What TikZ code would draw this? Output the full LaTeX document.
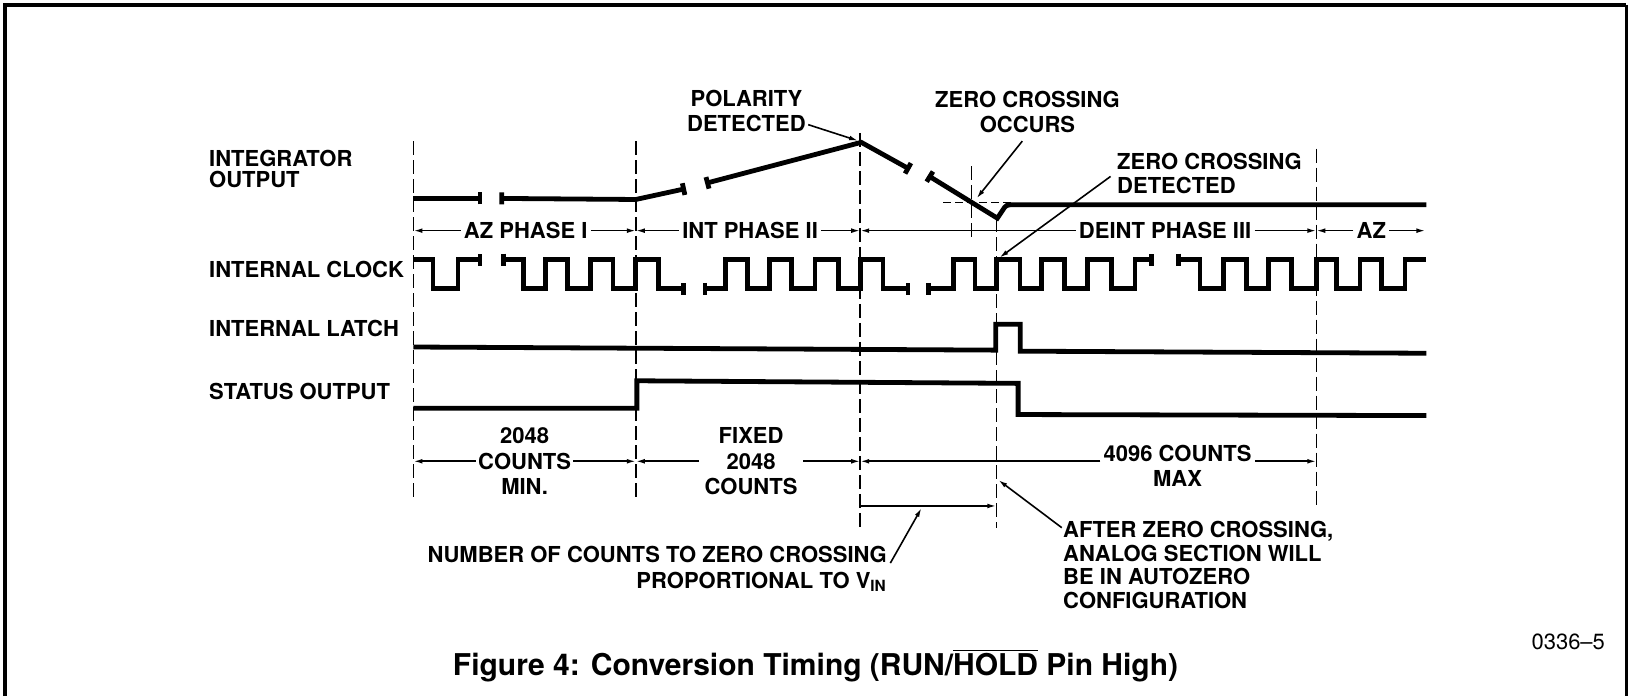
\documentclass[tikz,border=0pt]{standalone}
\usepackage{fontspec}
\setmainfont{TeX Gyre Heros}
\usetikzlibrary{arrows.meta,calc}
\tikzset{
  wave/.style={line width=2.4pt, line join=miter},
  guide/.style={line width=0.75pt, dash pattern=on 7pt off 2.5pt},
  dim/.style={line width=0.8pt, -{Latex[length=4.5pt,width=2.4pt]}},
  lbl/.style={font=\bfseries\fontsize{11}{12.2}\selectfont, inner sep=0pt},
}
\newcommand{\wtick}[2]{\draw[wave] ($(#1)!3pt!90:(#2)$) -- ($(#1)!3pt!-90:(#2)$);}
\begin{document}
\begin{tikzpicture}[x=0.5195pt, y=-0.5195pt]
\useasboundingbox (0,0) rectangle (1568,670);
% frame
\draw[line width=2pt] (5,670) -- (5,4.8) -- (1565.5,4.8);
\draw[line width=1.3pt] (1565.5,4.8) -- (1565.5,670);

% left labels
\node[lbl, anchor=west, align=left, font=\bfseries\fontsize{11}{10.4}\selectfont] (integ) at (201,162.4) {INTEGRATOR\\OUTPUT};
\node[lbl, anchor=west] (clk) at (201,259) {INTERNAL CLOCK};
\node[lbl, anchor=west] (latch) at (201,316) {INTERNAL LATCH};
\node[lbl, anchor=west] (status) at (201,377) {STATUS OUTPUT};

% vertical guides
\draw[guide] (398,136) -- (398,481);
\draw[guide] (612,136) -- (612,481);
\draw[guide] (828,128) -- (828,507);
\draw[guide] (935,160) -- (935,231);
\draw[guide] (959,210) -- (959,508);
\draw[guide] (1267,143) -- (1267,488);
\draw[guide, dash pattern=on 4pt off 2pt] (908,195) -- (975,195);

% integrator output
\coordinate (i1a) at (398,191); \coordinate (i1b) at (462,191);
\coordinate (i2a) at (483,191); \coordinate (i2k) at (612,192); \coordinate (i2b) at (658,182);
\coordinate (i3a) at (681,176); \coordinate (peak) at (829,137); \coordinate (i3b) at (874,162);
\coordinate (i4a) at (895,170); \coordinate (dip) at (960,210); \coordinate (i4e) at (1373,197);
\draw[wave] (i1a) -- (i1b);
\wtick{i1b}{i1a}
\draw[wave] (i2a) -- (i2k) -- (i2b);
\wtick{i2a}{i2k} \wtick{i2b}{i2k}
\draw[wave] (i3a) -- (peak) -- (i3b);
\wtick{i3a}{peak} \wtick{i3b}{peak}
\draw[wave] (i4a) -- (dip) -- (965,202.5) .. controls (968.5,197) .. (978,197) -- (i4e);
\wtick{i4a}{dip}

% internal clock
\coordinate (cA1) at (398,250); \coordinate (cA2) at (462,250);
\coordinate (cB1) at (484.4,250); \coordinate (cB2) at (657.7,278);
\coordinate (cC1) at (678.6,278); \coordinate (cC2) at (874,278);
\coordinate (cD1) at (893.5,278); \coordinate (cD2) at (1108.5,250);
\coordinate (cE1) at (1134,250); \coordinate (cE2) at (1373,250);
\draw[wave] (cA1) -| (416.7,278) -| (440.8,250) -- (cA2);
\draw[wave] (cB1) -| (504,278) -| (525,250) -| (546,278) -| (568,250) -| (590,278) -| (612,250) -| (634,278) -- (cB2);
\draw[wave] (cC1) -| (698,250) -| (719.5,278) -| (741,250) -| (762,278) -| (784.4,250) -| (806.9,278) -| (828,250) -| (850,278) -- (cC2);
\draw[wave] (cD1) -| (917.5,250) -| (938.4,278) -| (959,250) -| (981.7,278) -| (1002.6,250) -| (1025,278) -| (1046.5,250) -| (1070,278) -| (1092.4,250) -- (cD2);
\draw[wave] (cE1) -| (1155,278) -| (1177.4,250) -| (1199.9,278) -| (1220.7,250) -| (1243.2,278) -| (1267,250) -| (1286.5,278) -| (1309,250) -| (1329.9,278) -| (1352.3,250) -- (cE2);
\wtick{cA2}{440,250} \wtick{cB1}{504,250}
\wtick{cB2}{634,278} \wtick{cC1}{698,278}
\wtick{cC2}{850,278} \wtick{cD1}{917,278}
\wtick{cD2}{1092,250} \wtick{cE1}{1155,250}

% internal latch
\draw[wave] (398,334) -- (958.5,337) -- (958.5,312) -- (982,312) -- (982,338) -- (1373,340);
% status output
\draw[wave] (398,393) -- (613,393) -- (613,366.5) -- (980,369) -- (980,399) -- (1373,400);

% phase row
\coordinate (p1) at (398,222); \coordinate (p2) at (612,222);
\coordinate (p3) at (828,222); \coordinate (p6) at (1267,222);
\coordinate (pend) at (1372,222);
\node[lbl, inner xsep=1.5pt] (t1) at (506,222) {AZ PHASE I};
\node[lbl, inner xsep=1.5pt] (t2) at (722,222) {INT PHASE II};
\node[lbl, inner xsep=1.5pt] (t3) at (1121.5,222) {DEINT PHASE III};
\node[lbl, inner xsep=1.5pt] (t4) at (1320,222) {AZ};
\draw[dim] (t1.west) -- (p1); \draw[dim] (t1.east) -- (p2);
\draw[dim] (t2.west) -- (p2); \draw[dim] (t2.east) -- (p3);
\draw[dim] (t3.west) -- (p3); \draw[dim] (t3.east) -- (p6);
\draw[dim] (t4.west) -- (p6); \draw[dim] (t4.east) -- (pend);

% counts row
\coordinate (k1) at (398,444); \coordinate (k2) at (612,444);
\coordinate (k3) at (828,444); \coordinate (k6) at (1267,444);
\node[lbl, align=center, inner xsep=1pt, font=\bfseries\fontsize{11}{12.7}\selectfont] (c1) at (505,444) {2048\\COUNTS\\MIN.};
\node[lbl, align=center, inner xsep=2.6pt, font=\bfseries\fontsize{11}{12.7}\selectfont] (c2) at (723,444) {FIXED\\2048\\COUNTS};
\node[lbl, align=center, inner xsep=1.5pt] (c3) at (1133.5,448.2) {4096 COUNTS\\MAX};
\draw[dim] (c1.west) -- (k1); \draw[dim] (c1.east) -- (k2);
\draw[dim] (c2.west) -- (k2); \draw[dim] (c2.east) -- (k3);
\draw[dim] (c3.west |- k3) -- (k3); \draw[dim] (c3.east |- k3) -- (k6);

% bracket to zero crossing
\coordinate (b3) at (828,487); \coordinate (b5) at (959,487);
\draw[dim] (b3) -- (b5);

% annotations
\node[lbl, align=center, font=\bfseries\fontsize{11}{12.5}\selectfont] (pol) at (718.5,106.6) {POLARITY\\DETECTED};
\coordinate (peakA) at (826,135.5);
\draw[dim] ($(pol.south east)+(2,-7)$) -- (peakA);

\node[lbl, align=center] (zco) at (989,107.7) {ZERO CROSSING\\OCCURS};
\coordinate (zcA) at (940,191);
\draw[dim] ($(zco.south)+(-5,8)$) -- (zcA);

\node[lbl, align=left, anchor=west, font=\bfseries\fontsize{11}{11.7}\selectfont] (zcd) at (1075,166.8) {ZERO CROSSING\\DETECTED};
\coordinate (clkA) at (962,248);
\draw[dim] ($(zcd.west)+(-6,3)$) -- (clkA);

\node[lbl, align=right, anchor=north east, font=\bfseries\fontsize{11}{13}\selectfont] (num) at (854,525) {NUMBER OF COUNTS TO ZERO CROSSING\\PROPORTIONAL TO V\textsubscript{IN}};
\coordinate (brA) at (887,489);
\draw[dim] ($(num.north east)+(3,17)$) -- (brA);

\node[lbl, align=left, anchor=north west, font=\bfseries\fontsize{11}{11.95}\selectfont] (aft) at (1023,500.9) {AFTER ZERO CROSSING,\\ANALOG SECTION WILL\\BE IN AUTOZERO\\CONFIGURATION};
\coordinate (l5A) at (961,462);
\draw[dim] ($(aft.north west)+(-1,7)$) -- (l5A);

% caption
\node[inner sep=0pt, anchor=base, font=\bfseries\fontsize{15}{18}\selectfont] (title) at (785,650) {Figure 4: Conversion Timing (RUN/$\overline{\mbox{HOLD}}$ Pin High)};
\node[inner sep=0pt, font=\fontsize{11}{13}\selectfont] (code) at (1509.5,617.6) {0336--5};
\end{tikzpicture}
\end{document}
